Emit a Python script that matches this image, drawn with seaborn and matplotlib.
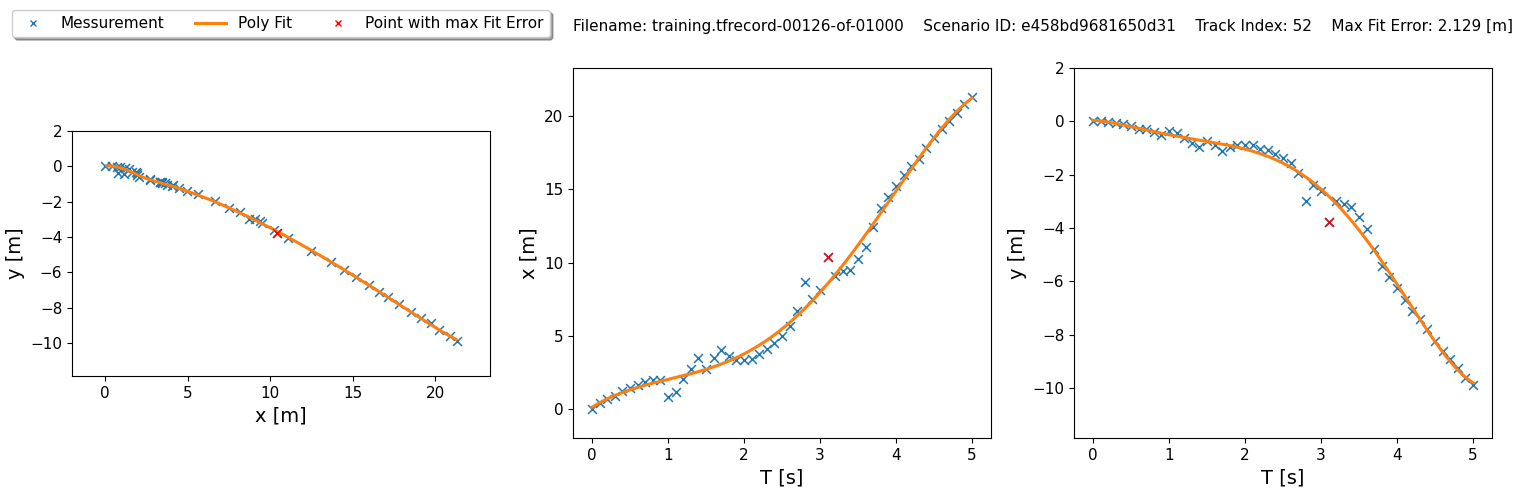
import numpy as np
import pandas as pd
import matplotlib
matplotlib.use("Agg")
import matplotlib.pyplot as plt
from matplotlib.lines import Line2D
import seaborn as sns

# ---- data ----
T = [round(0.1 * i, 1) for i in range(51)]
x_meas = [0.0, 0.4, 0.7, 0.9, 1.2, 1.45, 1.65, 1.85, 1.95, 1.95,
          0.8, 1.15, 2.05, 2.75, 3.45, 2.7, 3.45, 4.05, 3.6, 3.35,
          3.35, 3.4, 3.75, 4.1, 4.5, 4.95, 5.65, 6.65, 8.7, 7.5,
          8.15, 10.4, 9.05, 9.4, 9.5, 10.25, 11.05, 12.45, 13.7, 14.45,
          15.2, 16.0, 16.6, 17.1, 17.8, 18.5, 19.15, 19.7, 20.2, 20.85,
          21.3]
y_meas = [0.0, 0.0, -0.02, -0.06, -0.1, -0.17, -0.3, -0.3, -0.4, -0.5,
          -0.37, -0.42, -0.62, -0.8, -0.95, -0.72, -0.9, -1.12, -0.95, -0.9,
          -0.9, -0.9, -1.05, -1.07, -1.22, -1.38, -1.55, -1.95, -3.0, -2.38,
          -2.6, -3.78, -3.0, -3.12, -3.22, -3.6, -4.05, -4.8, -5.43, -5.85,
          -6.27, -6.72, -7.12, -7.42, -7.8, -8.25, -8.62, -8.9, -9.25, -9.62,
          -9.88]
poly_degree = 5
legend_labels = ["Messurement", "Poly Fit", "Point with max Fit Error"]
title_text = ("Filename: training.tfrecord-00126-of-01000    Scenario ID: e458bd9681650d31    "
              "Track Index: 52    Max Fit Error: 2.129 [m]")

T_arr = np.array(T)
x_arr = np.array(x_meas)
y_arr = np.array(y_meas)

# polynomial fit of the measurements
cx = np.polyfit(T_arr, x_arr, poly_degree)
cy = np.polyfit(T_arr, y_arr, poly_degree)
T_fine = np.linspace(T_arr.min(), T_arr.max(), 300)
fit = pd.DataFrame({"T": T_fine, "x": np.polyval(cx, T_fine), "y": np.polyval(cy, T_fine)})
err = np.hypot(x_arr - np.polyval(cx, T_arr), y_arr - np.polyval(cy, T_arr))
imax = int(np.argmax(err))

meas = pd.DataFrame({"T": T_arr, "x": x_arr, "y": y_arr})
worst = meas.iloc[[imax]]

blue = "#1f77b4"
orange = "#ff7f0e"

fig = plt.figure(figsize=(15.22, 4.98), dpi=100)
W, H = 1522, 498
def pos(l, t, r, b):
    return [l / W, 1 - b / H, (r - l) / W, (b - t) / H]

ax1 = fig.add_axes(pos(72, 131, 490, 376))
ax2 = fig.add_axes(pos(573, 68, 991, 438))
ax3 = fig.add_axes(pos(1074, 68, 1492, 438))

panels = [(ax1, "x", "y", "x [m]", "y [m]"),
          (ax2, "T", "x", "T [s]", "x [m]"),
          (ax3, "T", "y", "T [s]", "y [m]")]

for ax, xc, yc, xl, yl in panels:
    sns.scatterplot(data=meas, x=xc, y=yc, ax=ax, marker="x", color=blue,
                    s=40, linewidth=1.1, zorder=2)
    sns.lineplot(data=fit, x=xc, y=yc, ax=ax, color=orange, linewidth=2.2,
                 sort=False, estimator=None, zorder=3)
    sns.scatterplot(data=worst, x=xc, y=yc, ax=ax, marker="x", color="red",
                    s=40, linewidth=1.1, zorder=4)
    ax.set_xlabel(xl, fontsize=14)
    ax.set_ylabel(yl, fontsize=14)
    ax.tick_params(labelsize=11)
    ax.set_ylim(meas[yc].min() - 2, meas[yc].max() + 2)

ax1.set_xlim(meas["x"].min() - 2, meas["x"].max() + 2)
ax2.set_xlim(-0.25, 5.25)
ax3.set_xlim(-0.25, 5.25)

handles = [Line2D([], [], marker="x", color=blue, linestyle="", markersize=5),
           Line2D([], [], color=orange, linewidth=2.2),
           Line2D([], [], marker="x", color="red", linestyle="", markersize=5)]
fig.legend(handles, legend_labels,
           loc="upper left", bbox_to_anchor=(12 / W, 1 - 10 / H), ncol=3,
           shadow=True, fontsize=11, borderaxespad=0, fancybox=True)
fig.text(1513 / W, 1 - 27 / H, title_text, ha="right", va="center", fontsize=11)

fig.savefig("out.png", dpi=100)
